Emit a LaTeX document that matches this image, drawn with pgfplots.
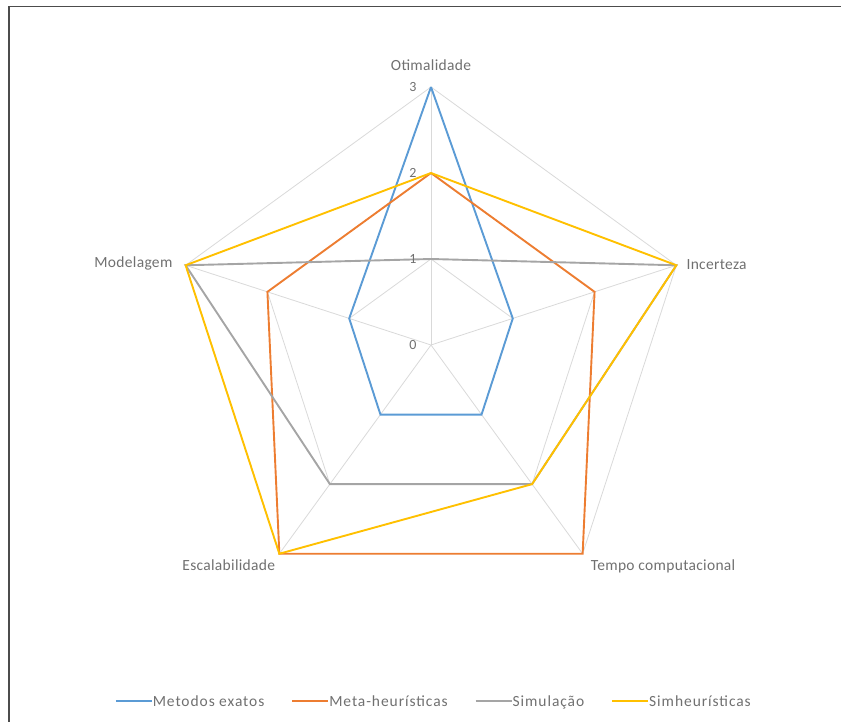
\documentclass[border=0pt]{standalone}
\usepackage{pgfplots}
\pgfplotsset{compat=1.18}
\usepgfplotslibrary{polar}
\usepackage{fontspec}
\setmainfont{Carlito}
\newfontfamily\lblfont[LetterSpace=2]{Carlito}
\newfontfamily\legfont[LetterSpace=6]{Carlito}
\definecolor{cblue}{HTML}{5B9BD5}
\definecolor{corange}{HTML}{ED7D31}
\definecolor{cgray}{HTML}{A5A5A5}
\definecolor{cyellow}{HTML}{FFC000}
\definecolor{gridc}{HTML}{D9D9D9}
\definecolor{txt}{HTML}{707070}
\begin{document}
\begin{tikzpicture}[x=1pt,y=1pt]
\useasboundingbox (-431,-377) rectangle (410,345);
\draw[line width=1.4pt, color=black!70] (-422,-400) -- (-422,338.5) -- (420,338.5);
\begin{polaraxis}[
  at={(0,0)}, anchor=origin,
  width=516pt, height=516pt, scale only axis,
  xmin=0, xmax=360, ymin=0, ymax=3,
  hide axis, clip=false,
  legend columns=4,
  legend style={draw=none, fill=none, font=\legfont\fontsize{15.5}{18}\selectfont\color{txt},
    at={(axis cs:-89.7,4.145)}, anchor=center,
    nodes={inner xsep=0pt, inner ysep=1pt},
    /tikz/every odd column/.append style={column sep=0pt},
    /tikz/every even column/.append style={column sep=27pt}},
  legend image code/.code={\draw[#1] (0pt,0pt) -- (36pt,0pt);},
  every axis plot/.append style={line width=1.9pt, line join=miter},
]
% grid
\addplot[gridc, line width=0.8pt, forget plot] coordinates {(90,1) (18,1) (-54,1) (-126,1) (162,1) (90,1)};
\addplot[gridc, line width=0.8pt, forget plot] coordinates {(90,2) (18,2) (-54,2) (-126,2) (162,2) (90,2)};
\addplot[gridc, line width=0.8pt, forget plot] coordinates {(90,3) (18,3) (-54,3) (-126,3) (162,3) (90,3)};
\addplot[gridc, line width=0.8pt, forget plot] coordinates {(90,0) (90,3)};
\addplot[gridc, line width=0.8pt, forget plot] coordinates {(18,0) (18,3)};
\addplot[gridc, line width=0.8pt, forget plot] coordinates {(-54,0) (-54,3)};
\addplot[gridc, line width=0.8pt, forget plot] coordinates {(-126,0) (-126,3)};
\addplot[gridc, line width=0.8pt, forget plot] coordinates {(162,0) (162,3)};
% series: Otimalidade, Incerteza, Tempo computacional, Escalabilidade, Modelagem
\addplot[cblue] coordinates {(90,3) (18,1) (-54,1) (-126,1) (162,1) (90,3)};
\addlegendentry{Metodos exatos}
\addplot[corange] coordinates {(90,2) (18,2) (-54,3) (-126,3) (162,2) (90,2)};
\addlegendentry{Meta-heurísticas}
\addplot[cgray] coordinates {(90,1) (18,3) (-54,2) (-126,2) (162,3) (90,1)};
\addlegendentry{Simulação}
\addplot[cyellow] coordinates {(90,2) (18,3) (-54,2) (-126,3) (162,3) (90,2)};
\addlegendentry{Simheurísticas}
% labels
\begin{scope}[every node/.style={font=\lblfont\fontsize{15.5}{18}\selectfont, text=txt, inner sep=0pt}]
\node[anchor=base] at ([yshift=17pt]axis cs:90,3) {Otimalidade};
\node[anchor=base west] at ([xshift=10pt,yshift=-4pt]axis cs:18,3) {Incerteza};
\node[anchor=base west] at ([xshift=8pt,yshift=-17pt]axis cs:-54,3) {Tempo computacional};
\node[anchor=base east] at ([xshift=-4pt,yshift=-17pt]axis cs:-126,3) {Escalabilidade};
\node[anchor=base east] at ([xshift=-13pt,yshift=-2pt]axis cs:162,3) {Modelagem};
\end{scope}
\begin{scope}[every node/.style={font=\lblfont\fontsize{14}{16}\selectfont, text=txt, inner sep=0pt}]
\node at ([xshift=-18pt]axis cs:90,3) {3};
\node at ([xshift=-18pt]axis cs:90,2) {2};
\node at ([xshift=-18pt]axis cs:90,1) {1};
\node at ([xshift=-18pt]axis cs:90,0) {0};
\end{scope}
\end{polaraxis}
\end{tikzpicture}
\end{document}
